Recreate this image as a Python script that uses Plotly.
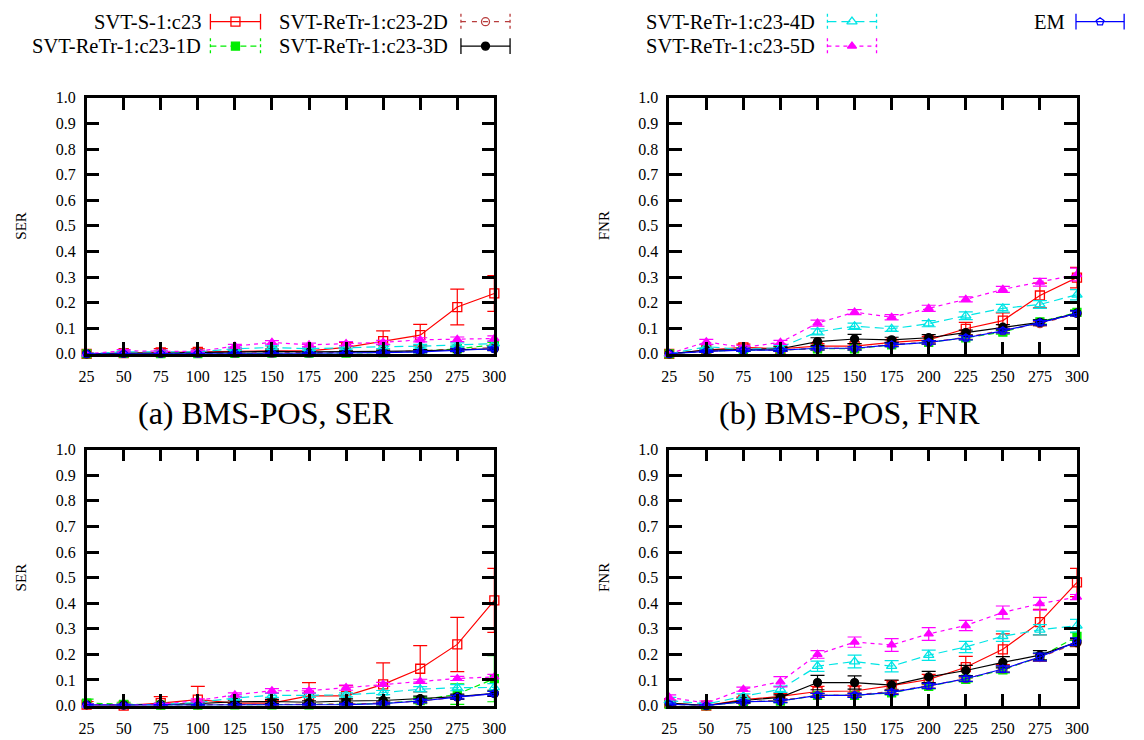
import plotly.graph_objects as go

W, H = 1144, 740
x_vals = [25, 50, 75, 100, 125, 150, 175, 200, 225, 250, 275, 300]
y_ticks = [0.0, 0.1, 0.2, 0.3, 0.4, 0.5, 0.6, 0.7, 0.8, 0.9, 1.0]

series_names = ["SVT-S-1:c23", "SVT-ReTr-1:c23-1D", "SVT-ReTr-1:c23-2D",
                "SVT-ReTr-1:c23-3D", "SVT-ReTr-1:c23-4D", "SVT-ReTr-1:c23-5D", "EM"]

# ---- Panel (a): BMS-POS, SER (top-left)
a_s1 = [0.0, 0.003, 0.006, 0.008, 0.01, 0.012, 0.012, 0.025, 0.05, 0.073, 0.183, 0.236]
a_s1_err = [0.003, 0.004, 0.015, 0.012, 0.006, 0.008, 0.008, 0.02, 0.04, 0.042, 0.07, 0.07]
a_1d = [0.0, 0.002, 0.001, 0.001, 0.002, 0.003, 0.003, 0.003, 0.005, 0.01, 0.02, 0.035]
a_1d_err = [0.002, 0.002, 0.002, 0.002, 0.003, 0.003, 0.003, 0.003, 0.004, 0.006, 0.008, 0.01]
a_2d = [0.0, 0.002, 0.002, 0.002, 0.003, 0.003, 0.004, 0.005, 0.007, 0.012, 0.018, 0.025]
a_2d_err = [0.002, 0.002, 0.002, 0.002, 0.003, 0.003, 0.003, 0.004, 0.004, 0.005, 0.006, 0.008]
a_3d = [0.0, 0.003, 0.003, 0.005, 0.008, 0.01, 0.008, 0.008, 0.01, 0.012, 0.015, 0.02]
a_3d_err = [0.002, 0.003, 0.003, 0.004, 0.004, 0.005, 0.004, 0.004, 0.005, 0.005, 0.006, 0.007]
a_4d = [0.0, 0.008, 0.008, 0.008, 0.02, 0.025, 0.02, 0.025, 0.028, 0.03, 0.035, 0.04]
a_4d_err = [0.002, 0.004, 0.004, 0.004, 0.006, 0.006, 0.006, 0.006, 0.007, 0.007, 0.008, 0.01]
a_5d = [0.0, 0.012, 0.01, 0.01, 0.03, 0.045, 0.035, 0.04, 0.045, 0.055, 0.057, 0.06]
a_5d_err = [0.002, 0.005, 0.005, 0.005, 0.007, 0.007, 0.007, 0.008, 0.008, 0.008, 0.009, 0.01]
a_em = [0.0, 0.001, 0.001, 0.001, 0.002, 0.002, 0.002, 0.003, 0.005, 0.008, 0.015, 0.02]
a_em_err = [0.001, 0.001, 0.001, 0.001, 0.002, 0.002, 0.002, 0.002, 0.003, 0.004, 0.005, 0.006]

# ---- Panel (b): BMS-POS, FNR (top-right)
b_s1 = [0.0, 0.015, 0.025, 0.02, 0.03, 0.03, 0.045, 0.055, 0.098, 0.13, 0.228, 0.298]
b_s1_err = [0.002, 0.006, 0.013, 0.008, 0.01, 0.01, 0.01, 0.012, 0.025, 0.03, 0.048, 0.04]
b_1d = [0.0, 0.01, 0.015, 0.015, 0.02, 0.02, 0.035, 0.045, 0.063, 0.085, 0.125, 0.162]
b_1d_err = [0.002, 0.004, 0.005, 0.005, 0.006, 0.006, 0.007, 0.007, 0.008, 0.008, 0.009, 0.01]
b_2d = [0.0, 0.01, 0.015, 0.015, 0.022, 0.022, 0.037, 0.045, 0.065, 0.09, 0.118, 0.158]
b_2d_err = [0.002, 0.004, 0.005, 0.005, 0.006, 0.006, 0.007, 0.007, 0.008, 0.008, 0.009, 0.01]
b_3d = [0.0, 0.015, 0.017, 0.02, 0.048, 0.058, 0.055, 0.063, 0.083, 0.104, 0.123, 0.159]
b_3d_err = [0.002, 0.005, 0.006, 0.006, 0.015, 0.018, 0.01, 0.012, 0.01, 0.01, 0.01, 0.01]
b_4d = [0.0, 0.028, 0.017, 0.025, 0.086, 0.108, 0.098, 0.118, 0.149, 0.178, 0.193, 0.231]
b_4d_err = [0.002, 0.008, 0.006, 0.008, 0.012, 0.012, 0.01, 0.012, 0.015, 0.015, 0.015, 0.02]
b_5d = [0.0, 0.047, 0.025, 0.045, 0.12, 0.163, 0.143, 0.178, 0.213, 0.252, 0.28, 0.31]
b_5d_err = [0.002, 0.01, 0.008, 0.008, 0.012, 0.01, 0.01, 0.012, 0.01, 0.012, 0.015, 0.025]
b_em = [0.0, 0.01, 0.015, 0.015, 0.022, 0.022, 0.035, 0.045, 0.063, 0.09, 0.122, 0.158]
b_em_err = [0.002, 0.004, 0.005, 0.005, 0.006, 0.006, 0.007, 0.007, 0.008, 0.008, 0.009, 0.01]

# ---- Panel (c): SER (bottom-left)
c_s1 = [0.004, 0.0, 0.01, 0.023, 0.01, 0.01, 0.038, 0.038, 0.083, 0.144, 0.239, 0.411]
c_s1_err = [0.012, 0.004, 0.025, 0.052, 0.01, 0.01, 0.052, 0.04, 0.084, 0.09, 0.106, 0.125]
c_1d = [0.01, 0.005, 0.002, 0.002, 0.003, 0.003, 0.003, 0.005, 0.008, 0.02, 0.045, 0.105]
c_1d_err = [0.015, 0.008, 0.003, 0.003, 0.004, 0.004, 0.004, 0.005, 0.008, 0.012, 0.04, 0.09]
c_2d = [0.003, 0.002, 0.003, 0.003, 0.005, 0.005, 0.005, 0.006, 0.01, 0.018, 0.033, 0.047]
c_2d_err = [0.004, 0.003, 0.003, 0.003, 0.004, 0.004, 0.004, 0.005, 0.006, 0.007, 0.008, 0.01]
c_3d = [0.003, 0.002, 0.005, 0.008, 0.015, 0.016, 0.013, 0.018, 0.02, 0.027, 0.035, 0.048]
c_3d_err = [0.004, 0.003, 0.004, 0.005, 0.008, 0.008, 0.006, 0.008, 0.01, 0.01, 0.01, 0.012]
c_4d = [0.003, 0.002, 0.005, 0.012, 0.03, 0.04, 0.04, 0.042, 0.051, 0.064, 0.07, 0.071]
c_4d_err = [0.004, 0.003, 0.004, 0.006, 0.007, 0.008, 0.008, 0.008, 0.008, 0.01, 0.012, 0.015]
c_5d = [0.003, 0.002, 0.005, 0.02, 0.042, 0.058, 0.058, 0.07, 0.083, 0.095, 0.106, 0.112]
c_5d_err = [0.004, 0.003, 0.004, 0.006, 0.008, 0.008, 0.008, 0.01, 0.008, 0.008, 0.008, 0.01]
c_em = [0.002, 0.001, 0.002, 0.002, 0.002, 0.002, 0.003, 0.004, 0.008, 0.018, 0.033, 0.047]
c_em_err = [0.003, 0.002, 0.002, 0.002, 0.003, 0.003, 0.003, 0.004, 0.005, 0.006, 0.007, 0.008]

# ---- Panel (d): FNR (bottom-right)
d_s1 = [0.01, 0.0, 0.023, 0.036, 0.055, 0.057, 0.078, 0.102, 0.15, 0.22, 0.326, 0.481]
d_s1_err = [0.008, 0.004, 0.01, 0.012, 0.02, 0.02, 0.02, 0.02, 0.042, 0.06, 0.05, 0.055]
d_1d = [0.005, 0.0, 0.015, 0.018, 0.04, 0.04, 0.05, 0.075, 0.103, 0.14, 0.19, 0.27]
d_1d_err = [0.005, 0.003, 0.005, 0.006, 0.008, 0.008, 0.008, 0.01, 0.01, 0.012, 0.015, 0.015]
d_2d = [0.005, 0.0, 0.015, 0.02, 0.04, 0.042, 0.055, 0.078, 0.105, 0.143, 0.188, 0.245]
d_2d_err = [0.005, 0.003, 0.005, 0.006, 0.008, 0.008, 0.008, 0.01, 0.01, 0.012, 0.015, 0.015]
d_3d = [0.01, 0.0, 0.02, 0.032, 0.09, 0.09, 0.08, 0.112, 0.137, 0.169, 0.197, 0.248]
d_3d_err = [0.008, 0.004, 0.008, 0.01, 0.028, 0.026, 0.02, 0.022, 0.02, 0.022, 0.018, 0.015]
d_4d = [0.02, 0.006, 0.036, 0.064, 0.154, 0.172, 0.154, 0.197, 0.229, 0.271, 0.296, 0.312]
d_4d_err = [0.012, 0.006, 0.01, 0.012, 0.02, 0.025, 0.022, 0.02, 0.022, 0.02, 0.02, 0.025]
d_5d = [0.032, 0.01, 0.064, 0.093, 0.2, 0.248, 0.237, 0.28, 0.313, 0.364, 0.398, 0.424]
d_5d_err = [0.01, 0.008, 0.008, 0.02, 0.015, 0.02, 0.025, 0.025, 0.02, 0.025, 0.025, 0.01]
d_em = [0.005, 0.0, 0.015, 0.018, 0.04, 0.04, 0.052, 0.077, 0.105, 0.143, 0.19, 0.25]
d_em_err = [0.005, 0.003, 0.005, 0.006, 0.008, 0.008, 0.008, 0.01, 0.01, 0.012, 0.015, 0.015]

panels = [
    ("x", "y", [(a_s1, a_s1_err), (a_1d, a_1d_err), (a_2d, a_2d_err), (a_3d, a_3d_err),
                (a_4d, a_4d_err), (a_5d, a_5d_err), (a_em, a_em_err)]),
    ("x2", "y2", [(b_s1, b_s1_err), (b_1d, b_1d_err), (b_2d, b_2d_err), (b_3d, b_3d_err),
                  (b_4d, b_4d_err), (b_5d, b_5d_err), (b_em, b_em_err)]),
    ("x3", "y3", [(c_s1, c_s1_err), (c_1d, c_1d_err), (c_2d, c_2d_err), (c_3d, c_3d_err),
                  (c_4d, c_4d_err), (c_5d, c_5d_err), (c_em, c_em_err)]),
    ("x4", "y4", [(d_s1, d_s1_err), (d_1d, d_1d_err), (d_2d, d_2d_err), (d_3d, d_3d_err),
                  (d_4d, d_4d_err), (d_5d, d_5d_err), (d_em, d_em_err)]),
]

colors = ["#ff0000", "#00ee00", "#b83c3c", "#000000", "#00e5e5", "#ff00ff", "#0000ff"]
dashes = ["solid", "6px,4px", "5px,6px", "solid", "9px,5px", "4px,4px", "solid"]
symbols = ["square-open", "square", "circle-open", "circle", "triangle-up-open", "triangle-up", "pentagon-open"]
msizes = [9, 8, 8, 8, 9, 8, 8]

SERIF = "Liberation Serif, Times New Roman, serif"

fig = go.Figure()
for xa, ya, data in panels:
    for i, (vals, errs) in enumerate(data):
        fig.add_trace(go.Scatter(
            x=x_vals, y=vals, xaxis=xa, yaxis=ya, mode="lines+markers",
            line=dict(color=colors[i], width=1.2, dash=dashes[i]),
            marker=dict(symbol=symbols[i], size=msizes[i], color=colors[i],
                        line=dict(color=colors[i], width=1.3)),
            error_y=dict(type="data", array=errs, visible=True, color=colors[i],
                         thickness=1.2, width=7),
            cliponaxis=False, showlegend=False, name=series_names[i]))

# Legend: text on the left, key sample on the right (gnuplot style)
leg_cols = [(197, 206, 257), (449, 461, 511), (822, 834, 884), (1077, 1087, 1136)]
leg_rows = [14, 39]
leg_slots = [(0, 0), (0, 1), (1, 0), (1, 1), (2, 0), (2, 1), (3, 0)]

def px(xp):
    return xp / W

def py(yp):
    return 1 - yp / H

annotations = []
shapes = []
for i, (c, r) in enumerate(leg_slots):
    tx, s0, s1 = leg_cols[c]
    yy = leg_rows[r]
    annotations.append(dict(x=px(tx), y=py(yy), xref="paper", yref="paper",
                            text=series_names[i], showarrow=False, xanchor="right",
                            yanchor="middle", borderpad=0,
                            font=dict(family=SERIF, size=20.5, color="black")))
    dashed = dashes[i] != "solid"
    shapes.append(dict(type="line", xref="paper", yref="paper", x0=px(s0), x1=px(s1),
                       y0=py(yy), y1=py(yy), line=dict(color=colors[i], width=1.3, dash=dashes[i])))
    for sx in (s0, s1):
        shapes.append(dict(type="line", xref="paper", yref="paper", x0=px(sx), x1=px(sx),
                           y0=py(yy - 8), y1=py(yy + 8),
                           line=dict(color=colors[i], width=1.3, dash="3px,3px" if dashed else "solid")))
    fig.add_trace(go.Scatter(x=[(s0 + s1) / 2], y=[yy], xaxis="x5", yaxis="y5", mode="markers",
                             marker=dict(symbol=symbols[i], size=msizes[i], color=colors[i],
                                         line=dict(color=colors[i], width=1.3)),
                             showlegend=False, hoverinfo="skip", cliponaxis=False))

# Axis labels and captions
for (xc, yc, t) in [(13, 223, "SER"), (606, 223, "FNR"), (13, 583, "SER"), (606, 583, "FNR")]:
    annotations.append(dict(x=px(xc), y=py(yc), xref="paper", yref="paper", text=t, showarrow=False,
                            textangle=-90, xanchor="center", yanchor="middle",
                            font=dict(family=SERIF, size=15, color="black")))
for (xc, yc, t) in [(263, 415, "(a) BMS-POS, SER"), (856, 415, "(b) BMS-POS, FNR")]:
    annotations.append(dict(x=px(xc), y=py(yc), xref="paper", yref="paper", text=t, showarrow=False,
                            xanchor="center", yanchor="middle",
                            font=dict(family=SERIF, size=32, color="black")))

def xaxis_cfg(domain, anchor):
    return dict(domain=domain, anchor=anchor, range=[25, 300], tickvals=x_vals,
                ticks="inside", ticklen=12, tickwidth=2.5, tickcolor="black",
                showline=True, linewidth=2.5, linecolor="black", mirror="ticks",
                showgrid=False, zeroline=False, ticklabelstandoff=6,
                tickfont=dict(family=SERIF, size=16, color="black"), fixedrange=True)

def yaxis_cfg(domain, anchor):
    return dict(domain=domain, anchor=anchor, range=[0, 1], tickvals=y_ticks, tickformat=".1f",
                ticks="inside", ticklen=13, tickwidth=2.5, tickcolor="black",
                showline=True, linewidth=2.5, linecolor="black", mirror="ticks",
                showgrid=False, zeroline=False, ticklabelstandoff=5,
                tickfont=dict(family=SERIF, size=16, color="black"), fixedrange=True)

xl = [80 / W, 495 / W]
xr = [673 / W, 1088 / W]
yt = [1 - 354 / H, 1 - 92 / H]
yb = [1 - 714 / H, 1 - 452 / H]

fig.update_layout(
    width=W, height=H, margin=dict(l=0, r=0, t=0, b=0),
    paper_bgcolor="white", plot_bgcolor="rgba(0,0,0,0)", showlegend=False,
    xaxis=xaxis_cfg(xl, "y"), yaxis=yaxis_cfg(yt, "x"),
    xaxis2=xaxis_cfg(xr, "y2"), yaxis2=yaxis_cfg(yt, "x2"),
    xaxis3=xaxis_cfg(xl, "y3"), yaxis3=yaxis_cfg(yb, "x3"),
    xaxis4=xaxis_cfg(xr, "y4"), yaxis4=yaxis_cfg(yb, "x4"),
    xaxis5=dict(domain=[0, 1], anchor="y5", range=[0, W], visible=False, fixedrange=True),
    yaxis5=dict(domain=[0, 1], anchor="x5", range=[H, 0], visible=False, fixedrange=True),
    annotations=annotations, shapes=shapes,
)

fig.write_html("out.html")
